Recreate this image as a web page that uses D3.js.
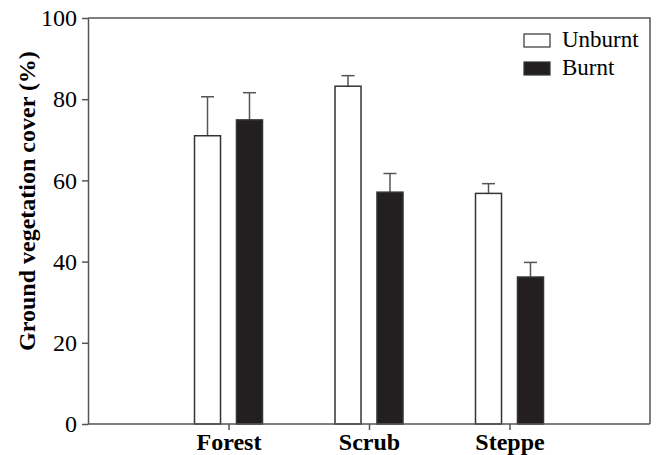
<!DOCTYPE html>
<html>
<head>
<meta charset="utf-8">
<script src="https://cdn.jsdelivr.net/npm/d3@7"></script>
<style>
    body { margin: 0; background: #fff; }
    svg { display: block; font-family: "Liberation Serif", "Times New Roman", serif; }
</style>
</head>
<body>
<svg id="chart"></svg>
<script>
// Data
const habitats = ["Forest", "Scrub", "Steppe"];
const treatments = ["Unburnt", "Burnt"];
const unburntMean = [71.0, 83.2, 56.8];
const unburntErr = [9.6, 2.6, 2.4];
const burntMean = [74.9, 57.1, 36.2];
const burntErr = [6.7, 4.6, 3.6];
const yTicks = [0, 20, 40, 60, 80, 100];

const width = 657, height = 455;
const margin = { top: 18, right: 7, bottom: 31, left: 88 };

const rows = [];
habitats.forEach((h, i) => {
    rows.push({ habitat: h, treatment: "Unburnt", mean: unburntMean[i], err: unburntErr[i] });
    rows.push({ habitat: h, treatment: "Burnt", mean: burntMean[i], err: burntErr[i] });
});

const svg = d3.select("#chart")
    .attr("width", width)
    .attr("height", height)
    .attr("viewBox", [0, 0, width, height]);

const x = d3.scalePoint(habitats, [margin.left, width - margin.right]).padding(1);
const xSub = d3.scaleBand(treatments, [-34, 34]).paddingInner(0.38);
const y = d3.scaleLinear([0, 100], [height - margin.bottom, margin.top]);
const fill = d3.scaleOrdinal(treatments, ["#ffffff", "#231f20"]);

const axisColor = "#555";

// frame (top and right)
svg.append("path")
    .attr("d", `M${margin.left},${margin.top}H${width - margin.right}V${height - margin.bottom}`)
    .attr("fill", "none")
    .attr("stroke", axisColor)
    .attr("stroke-width", 1.5);

// error bars (upper only)
const errs = svg.append("g")
    .attr("stroke", "#555")
    .attr("stroke-width", 1.5)
    .selectAll("g")
    .data(rows)
    .join("g")
    .attr("transform", d => `translate(${x(d.habitat) + xSub(d.treatment) + xSub.bandwidth() / 2},0)`);

errs.append("line")
    .attr("y1", d => y(d.mean))
    .attr("y2", d => y(d.mean + d.err));

errs.append("line")
    .attr("x1", -xSub.bandwidth() / 4)
    .attr("x2", xSub.bandwidth() / 4)
    .attr("y1", d => y(d.mean + d.err))
    .attr("y2", d => y(d.mean + d.err));

// bars
svg.append("g")
    .selectAll("rect")
    .data(rows)
    .join("rect")
    .attr("x", d => x(d.habitat) + xSub(d.treatment))
    .attr("y", d => y(d.mean))
    .attr("width", xSub.bandwidth())
    .attr("height", d => y(0) - y(d.mean))
    .attr("fill", d => fill(d.treatment))
    .attr("stroke", "#333")
    .attr("stroke-width", 1.5);

// x axis
svg.append("g")
    .attr("transform", `translate(0,${height - margin.bottom})`)
    .call(d3.axisBottom(x).tickSizeInner(6).tickSizeOuter(0).tickPadding(3))
    .call(g => g.select(".domain").attr("stroke", axisColor).attr("stroke-width", 1.5)
        .attr("d", `M${margin.left},0H${width - margin.right}`))
    .call(g => g.selectAll(".tick line").attr("stroke", axisColor).attr("stroke-width", 1.5))
    .call(g => g.selectAll(".tick text")
        .attr("fill", "#000")
        .style("font-family", "Liberation Serif, serif")
        .style("font-size", "24px")
        .style("font-weight", "bold"));

// y axis
svg.append("g")
    .attr("transform", `translate(${margin.left},0)`)
    .call(d3.axisLeft(y).tickValues(yTicks).tickSizeInner(6).tickSizeOuter(0).tickPadding(5))
    .call(g => g.select(".domain").attr("stroke", axisColor).attr("stroke-width", 1.5))
    .call(g => g.selectAll(".tick line").attr("stroke", axisColor).attr("stroke-width", 1.5))
    .call(g => g.selectAll(".tick text")
        .attr("fill", "#000")
        .style("font-family", "Liberation Serif, serif")
        .style("font-size", "24px"));

// y label
svg.append("text")
    .attr("transform", `translate(27,201) rotate(-90)`)
    .attr("text-anchor", "middle")
    .attr("dy", "0.35em")
    .attr("fill", "#000")
    .style("font-size", "24px")
    .style("font-weight", "bold")
    .text("Ground vegetation cover (%)");

// legend
const legend = svg.append("g")
    .attr("transform", "translate(524,34)")
    .selectAll("g")
    .data(treatments)
    .join("g")
    .attr("transform", (d, i) => `translate(0,${i * 28})`);

legend.append("rect")
    .attr("width", 26)
    .attr("height", 13)
    .attr("fill", d => fill(d))
    .attr("stroke", "#333")
    .attr("stroke-width", 1.2);

legend.append("text")
    .attr("x", 38)
    .attr("y", 13)
    .attr("fill", "#000")
    .style("font-size", "23px")
    .text(d => d);
</script>
</body>
</html>
